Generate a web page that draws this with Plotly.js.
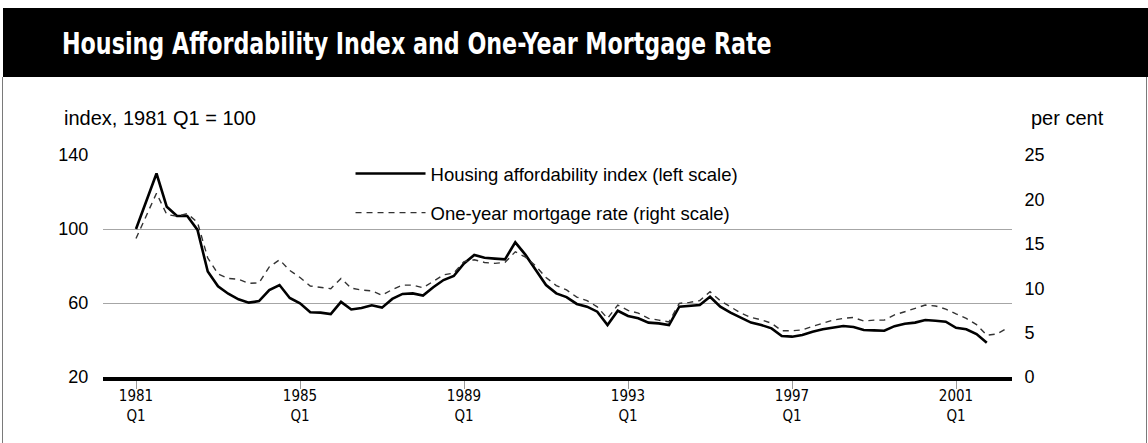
<!DOCTYPE html>
<html>
<head>
<meta charset="utf-8">
<script src="https://cdn.plot.ly/plotly-3.0.1.min.js"></script>
<style>
  html, body { margin: 0; padding: 0; background: #ffffff; }
  #chart { width: 1148px; height: 443px; }
</style>
</head>
<body>
<div id="chart"></div>
<script>
// ---- Data ----
const startYear = 1981; // first observation: 1981 Q1, quarterly
const affordabilityIndex = [
  100, 115, 130, 112, 107, 107, 99.5, 77, 69, 65,
  62, 60.2, 61, 67, 69.7, 62.7, 59.8, 55, 54.8, 54,
  60.6, 56.5, 57.3, 58.8, 57.5, 62.2, 64.9, 65.2, 64, 68.5,
  72.4, 74.6, 81.4, 86, 84.5, 84, 83.6, 92.8, 86, 77.8,
  69.7, 65.2, 63.2, 59.5, 58, 55.3, 48.1, 55.8, 53, 51.7,
  49.4, 49, 48.1, 58, 58.6, 58.9, 63.4, 58, 54.8, 52.3,
  49.4, 48.1, 46.3, 42.2, 41.8, 42.7, 44.5, 45.8, 46.9, 47.6,
  47.0, 45.4, 45.2, 45.0, 47.5, 48.8, 49.4, 50.8, 50.4, 49.9,
  46.6, 45.8, 43.2, 38.5
];
const mortgageRate = [
  15.6, 18.2, 20.7, 18.3, 18.1, 18.4, 17.4, 13.4, 11.6, 11.1,
  11.0, 10.55, 10.6, 12.4, 13.2, 12.0, 11.2, 10.25, 10.06, 9.95,
  11.1, 10.0, 9.8, 9.7, 9.2, 9.85, 10.35, 10.35, 10.05, 10.8,
  11.5, 11.7, 13.0, 13.2, 12.9, 12.8, 12.9, 14.1, 13.5, 12.5,
  11.2, 10.3, 9.8, 9.0, 8.6, 7.9, 6.6, 8.1, 7.5, 7.2,
  6.6, 6.4, 6.2, 8.3, 8.4, 8.6, 9.6, 8.6, 7.9, 7.2,
  6.7, 6.45, 6.05, 5.2, 5.2, 5.3, 5.7, 6.05, 6.4, 6.6,
  6.7, 6.3, 6.4, 6.4, 7.0, 7.35, 7.7, 8.1, 8.0, 7.65,
  7.1, 6.6, 5.9, 4.7, 4.85, 5.5
];
const tickYears = [1981, 1985, 1989, 1993, 1997, 2001];
const tickLabels = ['1981<br>Q1', '1985<br>Q1', '1989<br>Q1', '1993<br>Q1', '1997<br>Q1', '2001<br>Q1'];
const leftTicks = [20, 60, 100, 140];
const rightTicks = [0, 5, 10, 15, 20, 25];
const seriesNames = ['Housing affordability index (left scale)', 'One-year mortgage rate (right scale)'];
const chartTitle = 'Housing Affordability Index and One-Year Mortgage Rate';
const leftUnit = 'index, 1981 Q1 = 100';
const rightUnit = 'per cent';

// quarter -> fractional year position
const qx = (i) => startYear + i / 4;
const xHai = affordabilityIndex.map((_, i) => qx(i));
const xRate = mortgageRate.map((_, i) => qx(i));

const baseFont = 'Liberation Sans, Arial, Helvetica, sans-serif';
const narrowFont = 'DejaVu Sans Condensed, Liberation Sans Narrow, sans-serif';

const traces = [
  {
    x: xHai, y: affordabilityIndex, type: 'scatter', mode: 'lines',
    name: seriesNames[0], yaxis: 'y', legendgroup: 'a',
    line: { color: '#000000', width: 2.6 },
    hoverinfo: 'skip'
  },
  {
    x: xRate, y: mortgageRate, type: 'scatter', mode: 'lines',
    name: seriesNames[1], yaxis: 'y2', legendgroup: 'b',
    line: { color: '#333333', width: 1.4, dash: '6px,5px' },
    hoverinfo: 'skip'
  }
];

const layout = {
  width: 1148, height: 443,
  margin: { l: 103, r: 136, t: 155, b: 66, pad: 0 },
  paper_bgcolor: '#ffffff', plot_bgcolor: '#ffffff',
  font: { family: baseFont, color: '#000000', size: 17 },
  showlegend: true,
  title: {
    text: '<b>' + chartTitle + '</b>',
    xref: 'container', yref: 'container',
    x: 62 / 1148, xanchor: 'left',
    y: 1 - 44 / 443, yanchor: 'middle',
    font: { family: narrowFont, size: 30, color: '#ffffff' }
  },
  legend: {
    x: 0.2723, y: 1.0, xanchor: 'left', yanchor: 'top',
    bgcolor: 'rgba(255,255,255,0)', borderwidth: 0,
    font: { family: baseFont, size: 18.5, color: '#000000' },
    itemwidth: 70, tracegroupgap: 12, traceorder: 'grouped'
  },
  xaxis: {
    range: [startYear - 3.22 / 4, startYear + 85.46 / 4],
    tickvals: tickYears, ticktext: tickLabels,
    showgrid: false, zeroline: false,
    showline: true, linecolor: '#000000', linewidth: 4,
    ticks: 'outside', ticklen: 8, tickwidth: 1, tickcolor: '#9a9a9a',
    ticklabelstandoff: -6,
    tickfont: { family: narrowFont, size: 15, color: '#000000' },
    fixedrange: true
  },
  yaxis: {
    range: [20, 140], tickvals: leftTicks,
    showgrid: true, gridcolor: '#a6a6a6', gridwidth: 1,
    zeroline: false, showline: false,
    ticks: 'outside', ticklen: 10, tickcolor: 'rgba(0,0,0,0)',
    tickfont: { family: baseFont, size: 18, color: '#000000' },
    fixedrange: true
  },
  yaxis2: {
    range: [0, 25], tickvals: rightTicks,
    overlaying: 'y', side: 'right',
    showgrid: false, zeroline: false, showline: false,
    ticks: 'outside', ticklen: 8, tickcolor: 'rgba(0,0,0,0)',
    tickfont: { family: baseFont, size: 18, color: '#000000' },
    fixedrange: true
  },
  shapes: [
    // black title band
    { type: 'rect', xref: 'paper', yref: 'paper', layer: 'below',
      x0: (3 - 103) / 909, x1: (1148 - 103) / 909,
      y0: (377 - 77) / 222, y1: (377 - 8) / 222,
      fillcolor: '#000000', line: { width: 0 } },
    // frame lines
    { type: 'line', xref: 'paper', yref: 'paper',
      x0: (2.5 - 103) / 909, x1: (2.5 - 103) / 909,
      y0: (377 - 443) / 222, y1: (377 - 77) / 222,
      line: { color: '#7a7a7a', width: 1 } },
    { type: 'line', xref: 'paper', yref: 'paper',
      x0: (1146.5 - 103) / 909, x1: (1146.5 - 103) / 909,
      y0: (377 - 443) / 222, y1: (377 - 77) / 222,
      line: { color: '#7a7a7a', width: 1 } }
  ],
  annotations: [
    { text: leftUnit, xref: 'paper', yref: 'paper',
      x: (62 - 103) / 909, y: (377 - 118) / 222,
      xanchor: 'left', yanchor: 'middle', showarrow: false,
      font: { family: baseFont, size: 20, color: '#000000' } },
    { text: rightUnit, xref: 'paper', yref: 'paper',
      x: (1106 - 103) / 909, y: (377 - 118) / 222,
      xanchor: 'right', yanchor: 'middle', showarrow: false,
      font: { family: baseFont, size: 20, color: '#000000' } }
  ]
};

Plotly.newPlot('chart', traces, layout, { displayModeBar: false, staticPlot: true }).then(function (gd) {
  // condense the title horizontally to match the narrow bold face of the original
  const t = gd.querySelector('.gtitle');
  if (t) {
    const w = t.getBBox().width;
    const target = 710;
    if (w > target) {
      const s = target / w;
      const x0 = 62;
      t.setAttribute('transform', 'translate(' + x0 + ',0) scale(' + s + ',1) translate(' + (-x0) + ',0)');
    }
  }
});
</script>
</body>
</html>
